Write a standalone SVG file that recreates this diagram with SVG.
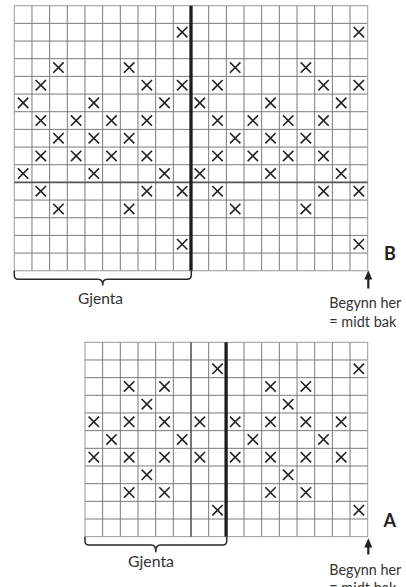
<svg xmlns="http://www.w3.org/2000/svg" xmlns:xlink="http://www.w3.org/1999/xlink" width="406" height="587" viewBox="0 0 406 587">
<style>
.bg{fill:#fff}
.grid{fill:none;stroke:#7a7a7a;stroke-width:1}
.edge{fill:none;stroke:#999;stroke-width:1}
.mid{fill:none;stroke:#555;stroke-width:1.6}
.thick{fill:none;stroke:#1c1c1c;stroke-width:3.3}
.xm{fill:none;stroke:#222;stroke-width:1.6}
.brace{fill:none;stroke:#2a2a2a;stroke-width:1.5;stroke-linejoin:round}
.txt{font-family:Lato,"Liberation Sans",sans-serif;font-weight:400;font-size:15.5px;fill:#333}
.lbl{font-family:Lato,"Liberation Sans",sans-serif;font-weight:700;font-size:18px;fill:#222}
.arrow{fill:#222;stroke:none}
.shaft{stroke:#222;stroke-width:2.2}
</style>
<defs>
<path id="x" class="xm" d="M-5.2,-5.2L5.2,5.2M5.2,-5.2L-5.2,5.2"/>
</defs>
<rect class="bg" x="0" y="0" width="406" height="587"/>

<g id="chart-B">
<path class="grid" d="M31.97,5.7V270.75M49.64,5.7V270.75M67.31,5.7V270.75M84.98,5.7V270.75M102.65,5.7V270.75M120.32,5.7V270.75M137.99,5.7V270.75M155.66,5.7V270.75M173.33,5.7V270.75M208.67,5.7V270.75M226.34,5.7V270.75M244.01,5.7V270.75M261.68,5.7V270.75M279.35,5.7V270.75M297.02,5.7V270.75M314.69,5.7V270.75M332.36,5.7V270.75M350.03,5.7V270.75M14.3,23.37H367.7M14.3,41.04H367.7M14.3,58.71H367.7M14.3,76.38H367.7M14.3,94.05H367.7M14.3,111.72H367.7M14.3,129.39H367.7M14.3,147.06H367.7M14.3,164.73H367.7M14.3,200.07H367.7M14.3,217.74H367.7M14.3,235.41H367.7M14.3,253.08H367.7"/>
<rect class="edge" x="14.3" y="5.7" width="353.4" height="265.05"/>
<path class="mid" d="M14.3,182.4H367.7"/>
<g id="marks-B">
<use xlink:href="#x" x="182.17" y="32.21"/><use xlink:href="#x" x="358.87" y="32.21"/>
<use xlink:href="#x" x="58.48" y="67.55"/><use xlink:href="#x" x="129.16" y="67.55"/><use xlink:href="#x" x="235.18" y="67.55"/><use xlink:href="#x" x="305.86" y="67.55"/>
<use xlink:href="#x" x="40.81" y="85.22"/><use xlink:href="#x" x="146.83" y="85.22"/><use xlink:href="#x" x="182.17" y="85.22"/><use xlink:href="#x" x="217.51" y="85.22"/><use xlink:href="#x" x="323.53" y="85.22"/><use xlink:href="#x" x="358.87" y="85.22"/>
<use xlink:href="#x" x="23.14" y="102.89"/><use xlink:href="#x" x="93.82" y="102.89"/><use xlink:href="#x" x="164.5" y="102.89"/><use xlink:href="#x" x="199.84" y="102.89"/><use xlink:href="#x" x="270.52" y="102.89"/><use xlink:href="#x" x="341.2" y="102.89"/>
<use xlink:href="#x" x="40.81" y="120.56"/><use xlink:href="#x" x="76.15" y="120.56"/><use xlink:href="#x" x="111.49" y="120.56"/><use xlink:href="#x" x="146.83" y="120.56"/><use xlink:href="#x" x="217.51" y="120.56"/><use xlink:href="#x" x="252.85" y="120.56"/><use xlink:href="#x" x="288.19" y="120.56"/><use xlink:href="#x" x="323.53" y="120.56"/>
<use xlink:href="#x" x="58.48" y="138.23"/><use xlink:href="#x" x="93.82" y="138.23"/><use xlink:href="#x" x="129.16" y="138.23"/><use xlink:href="#x" x="235.18" y="138.23"/><use xlink:href="#x" x="270.52" y="138.23"/><use xlink:href="#x" x="305.86" y="138.23"/>
<use xlink:href="#x" x="40.81" y="155.9"/><use xlink:href="#x" x="76.15" y="155.9"/><use xlink:href="#x" x="111.49" y="155.9"/><use xlink:href="#x" x="146.83" y="155.9"/><use xlink:href="#x" x="217.51" y="155.9"/><use xlink:href="#x" x="252.85" y="155.9"/><use xlink:href="#x" x="288.19" y="155.9"/><use xlink:href="#x" x="323.53" y="155.9"/>
<use xlink:href="#x" x="23.14" y="173.57"/><use xlink:href="#x" x="93.82" y="173.57"/><use xlink:href="#x" x="164.5" y="173.57"/><use xlink:href="#x" x="199.84" y="173.57"/><use xlink:href="#x" x="270.52" y="173.57"/><use xlink:href="#x" x="341.2" y="173.57"/>
<use xlink:href="#x" x="40.81" y="191.24"/><use xlink:href="#x" x="146.83" y="191.24"/><use xlink:href="#x" x="182.17" y="191.24"/><use xlink:href="#x" x="217.51" y="191.24"/><use xlink:href="#x" x="323.53" y="191.24"/><use xlink:href="#x" x="358.87" y="191.24"/>
<use xlink:href="#x" x="58.48" y="208.91"/><use xlink:href="#x" x="129.16" y="208.91"/><use xlink:href="#x" x="235.18" y="208.91"/><use xlink:href="#x" x="305.86" y="208.91"/>
<use xlink:href="#x" x="182.17" y="244.25"/><use xlink:href="#x" x="358.87" y="244.25"/>
</g>
<path class="thick" d="M191,5.7V270.75"/>
</g>

<g id="brace-B">
<path class="brace" d="M14.3,270.75V275.3Q14.3,279.3 18.3,279.3H98.2Q102.7,279.3 102.7,285Q102.7,279.3 107.2,279.3H187.3Q191.3,279.3 191.3,275.3V270.75"/>
<text class="txt" x="100.5" y="304.3" text-anchor="middle" textLength="45" lengthAdjust="spacingAndGlyphs">Gjenta</text>
</g>

<g id="label-B">
<text class="lbl" x="384" y="260">B</text>
<path class="arrow" d="M368.3,270.3L372.3,279.5H364.3Z"/>
<path class="shaft" d="M368.3,278V288.5"/>
<text class="txt" x="329.3" y="308.3" textLength="72" lengthAdjust="spacingAndGlyphs">Begynn her</text>
<text class="txt" x="329.3" y="326.7" textLength="67" lengthAdjust="spacingAndGlyphs">= midt bak</text>
</g>

<g id="chart-A">
<path class="grid" d="M102.65,342.3V536.67M120.32,342.3V536.67M137.99,342.3V536.67M155.66,342.3V536.67M173.33,342.3V536.67M208.67,342.3V536.67M244.01,342.3V536.67M261.68,342.3V536.67M279.35,342.3V536.67M297.02,342.3V536.67M314.69,342.3V536.67M332.36,342.3V536.67M350.03,342.3V536.67M84.98,359.97H367.7M84.98,377.64H367.7M84.98,395.31H367.7M84.98,412.98H367.7M84.98,430.65H367.7M84.98,448.32H367.7M84.98,465.99H367.7M84.98,483.66H367.7M84.98,501.33H367.7M84.98,519H367.7"/>
<rect class="edge" x="84.98" y="342.3" width="282.72" height="194.37"/>
<path class="mid" d="M191,342.3V536.67"/>
<g id="marks-A">
<use xlink:href="#x" x="217.51" y="368.81"/><use xlink:href="#x" x="358.87" y="368.81"/>
<use xlink:href="#x" x="129.16" y="386.48"/><use xlink:href="#x" x="164.5" y="386.48"/><use xlink:href="#x" x="270.52" y="386.48"/><use xlink:href="#x" x="305.86" y="386.48"/>
<use xlink:href="#x" x="146.83" y="404.15"/><use xlink:href="#x" x="288.19" y="404.15"/>
<use xlink:href="#x" x="93.82" y="421.82"/><use xlink:href="#x" x="129.16" y="421.82"/><use xlink:href="#x" x="164.5" y="421.82"/><use xlink:href="#x" x="199.84" y="421.82"/><use xlink:href="#x" x="235.18" y="421.82"/><use xlink:href="#x" x="270.52" y="421.82"/><use xlink:href="#x" x="305.86" y="421.82"/><use xlink:href="#x" x="341.2" y="421.82"/>
<use xlink:href="#x" x="111.49" y="439.49"/><use xlink:href="#x" x="182.17" y="439.49"/><use xlink:href="#x" x="252.85" y="439.49"/><use xlink:href="#x" x="323.53" y="439.49"/>
<use xlink:href="#x" x="93.82" y="457.16"/><use xlink:href="#x" x="129.16" y="457.16"/><use xlink:href="#x" x="164.5" y="457.16"/><use xlink:href="#x" x="199.84" y="457.16"/><use xlink:href="#x" x="235.18" y="457.16"/><use xlink:href="#x" x="270.52" y="457.16"/><use xlink:href="#x" x="305.86" y="457.16"/><use xlink:href="#x" x="341.2" y="457.16"/>
<use xlink:href="#x" x="146.83" y="474.83"/><use xlink:href="#x" x="288.19" y="474.83"/>
<use xlink:href="#x" x="129.16" y="492.5"/><use xlink:href="#x" x="164.5" y="492.5"/><use xlink:href="#x" x="270.52" y="492.5"/><use xlink:href="#x" x="305.86" y="492.5"/>
<use xlink:href="#x" x="217.51" y="510.17"/><use xlink:href="#x" x="358.87" y="510.17"/>
</g>
<path class="thick" d="M226.1,342.3V536.67"/>
</g>

<g id="brace-A">
<path class="brace" d="M84.98,536.67V541Q84.98,545 88.98,545H151.3Q155.8,545 155.8,551.7Q155.8,545 160.3,545H222.7Q226.7,545 226.7,541V536.67"/>
<text class="txt" x="151" y="566.7" text-anchor="middle" textLength="46" lengthAdjust="spacingAndGlyphs">Gjenta</text>
</g>

<g id="label-A">
<text class="lbl" x="383.5" y="526.7">A</text>
<path class="arrow" d="M368.3,538.3L372.3,547.5H364.3Z"/>
<path class="shaft" d="M368.3,546V554.5"/>
<text class="txt" x="329.3" y="574.5" textLength="72" lengthAdjust="spacingAndGlyphs">Begynn her</text>
<text class="txt" x="329.3" y="592.5" textLength="67" lengthAdjust="spacingAndGlyphs">= midt bak</text>
</g>
</svg>
